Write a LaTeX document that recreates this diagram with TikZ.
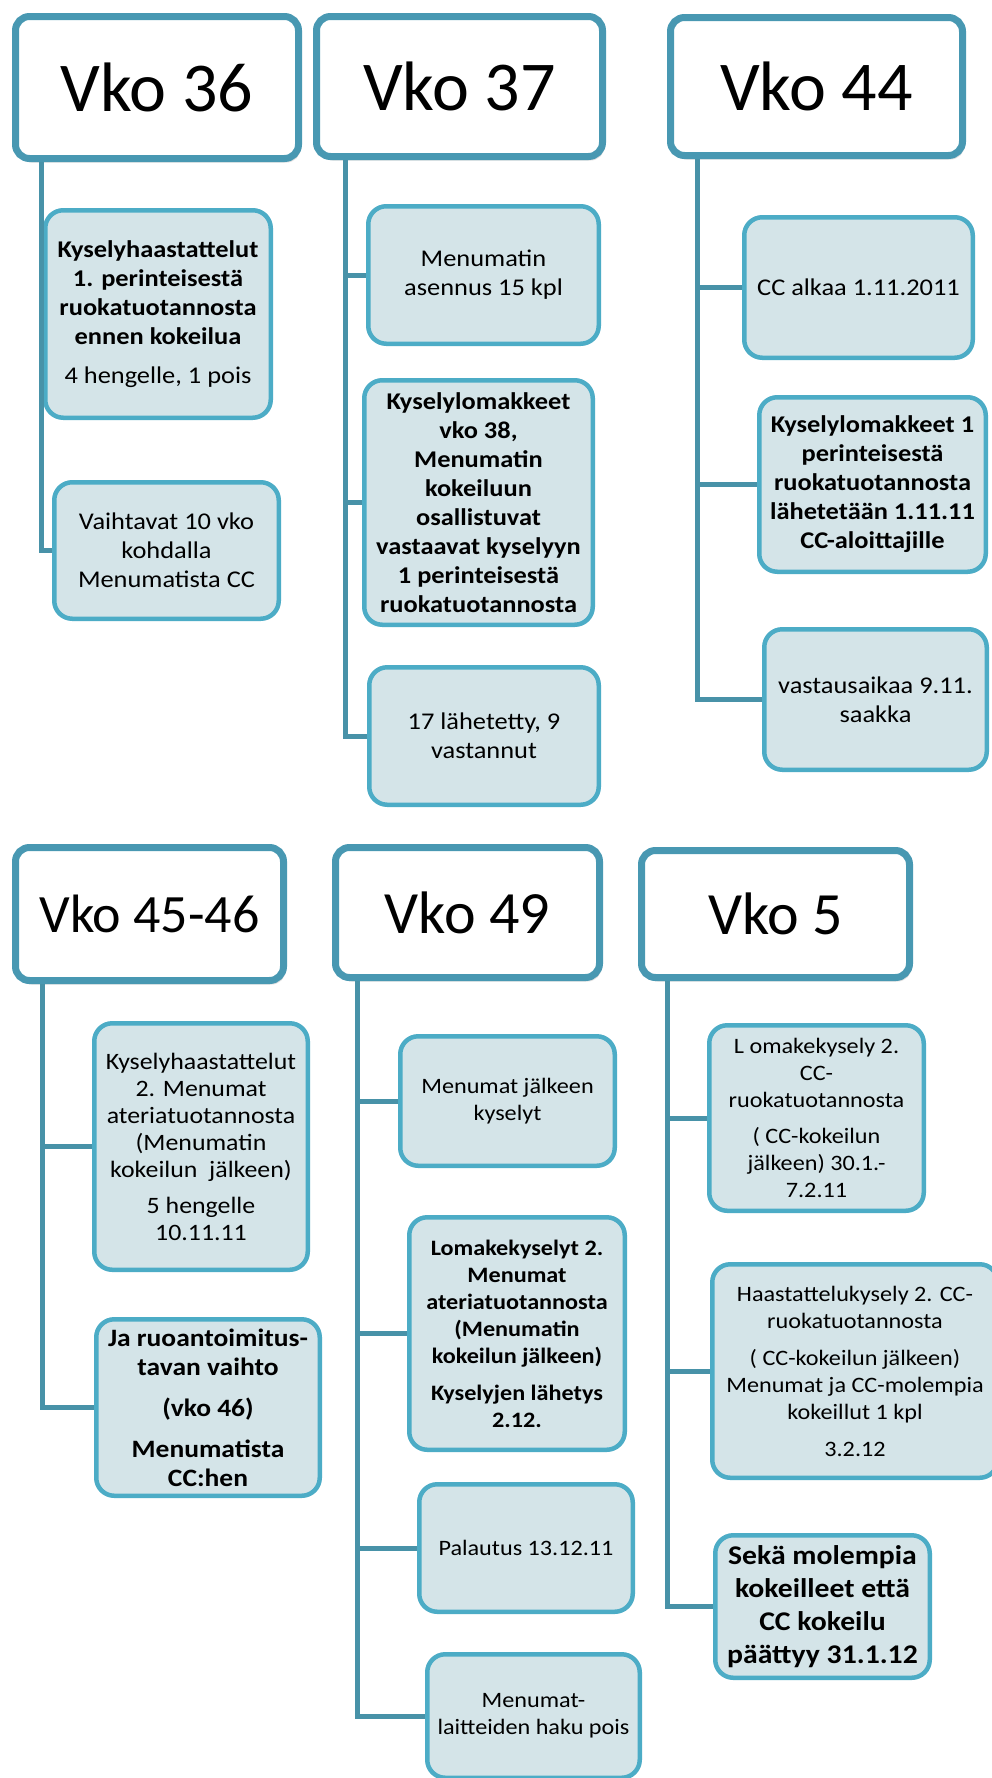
\documentclass[tikz,border=0pt]{standalone}
\usepackage{fontspec}
\setmainfont{Carlito}
\newfontfamily\boxfont[FakeStretch=1.1]{Carlito}
\usetikzlibrary{shadows}
\definecolor{headteal}{RGB}{72,152,178}
\definecolor{boxteal}{RGB}{76,172,198}
\definecolor{boxfill}{RGB}{212,228,232}
\definecolor{linkteal}{RGB}{72,146,168}

\begin{document}
\begin{tikzpicture}[x=1pt, y=-1pt]
    \tikzstyle{head_style} = [draw=headteal, line width=7pt, fill=white, rounded corners=14pt,
      inner sep=0pt, font=\fontsize{70}{84}\selectfont,
      drop shadow={opacity=0.25, shadow xshift=2pt, shadow yshift=-4pt}]
    \tikzstyle{low_head} = [head_style, font=\fontsize{60}{72}\selectfont]
    \tikzstyle{item_style} = [draw=boxteal, line width=4.5pt, fill=boxfill, rounded corners=18pt,
      inner sep=0pt, align=center, font={\boxfont\fontsize{24}{29}\selectfont}]
    \tikzstyle{bold_item} = [item_style, font={\boxfont\bfseries\fontsize{24}{29}\selectfont}]
    \tikzstyle{low_item} = [item_style, font={\boxfont\fontsize{22}{27}\selectfont}]
    \tikzstyle{low_bold} = [item_style, font={\boxfont\bfseries\fontsize{22}{27}\selectfont}]
    \tikzstyle{link_style} = [linkteal, line width=5pt]

    \path[use as bounding box, fill=white] (0,0) rectangle (991,1778);

    % upper row
    \begin{scope}
      \node[head_style, minimum width=283pt, minimum height=142pt] (h36) at (157,87.5) {Vko 36};
      \node[head_style, minimum width=286pt, minimum height=140pt] (h37) at (459.5,86.5) {Vko 37};
      \node[head_style, minimum width=292pt, minimum height=138pt] (h44) at (816.5,86.5) {Vko 44};

      \node[bold_item, minimum width=225.5pt, minimum height=207.5pt] (a1) at (158,314)
        {Kyselyhaastattelut\\ 1. perinteisestä\\ ruokatuotannosta\\ ennen kokeilua\\[10pt]
         \mdseries 4 hengelle, 1 pois};
      \node[item_style, minimum width=224.5pt, minimum height=136.5pt] (a2) at (166.5,550.5)
        {Vaihtavat 10 vko\\ kohdalla\\ Menumatista CC};

      \node[item_style, minimum width=230.5pt, minimum height=137.5pt] (b1) at (483.5,275)
        {Menumatin\\ asennus 15 kpl};
      \node[bold_item, minimum width=228.5pt, minimum height=244.5pt] (b2) at (478.5,502.5)
        {Kyselylomakkeet\\ vko 38,\\ Menumatin\\ kokeiluun\\ osallistuvat\\ vastaavat kyselyyn\\
         1 perinteisestä\\ ruokatuotannosta};
      \node[item_style, minimum width=229.5pt, minimum height=137.5pt] (b3) at (484,736)
        {17 lähetetty, 9\\ vastannut};

      \node[item_style, minimum width=228.5pt, minimum height=140.5pt] (c1) at (858.5,287.5)
        {CC alkaa 1.11.2011};
      \node[bold_item, minimum width=226.5pt, minimum height=174.5pt] (c2) at (872.5,484.5)
        {Kyselylomakkeet 1\\ perinteisestä\\ ruokatuotannosta\\ lähetetään 1.11.11\\ CC-aloittajille};
      \node[item_style, minimum width=222.5pt, minimum height=140.5pt] (c3) at (875.5,699.5)
        {vastausaikaa 9.11.\\ saakka};
    \end{scope}

    % lower row
    \begin{scope}
      \node[low_head, font=\fontsize{54}{66}\selectfont, minimum width=268pt, minimum height=133pt]
        (h4546) at (149.5,914) {Vko 45-46};
      \node[low_head, minimum width=264pt, minimum height=130pt] (h49) at (467.5,912.5) {Vko 49};
      \node[low_head, minimum width=268pt, minimum height=127pt] (h5) at (775.5,914) {Vko 5};

      \node[low_item, font={\boxfont\fontsize{23.5}{27}\selectfont},
        minimum width=213.5pt, minimum height=246.5pt] (d1) at (201,1146.5)
        {Kyselyhaastattelut\\ 2. Menumat\\ ateriatuotannosta\\ (Menumatin\\ kokeilun\ \ jälkeen)\\[9pt]
         5 hengelle\\ 10.11.11};
      \node[item_style, font={\boxfont\bfseries\fontsize{25}{29}\selectfont},
        minimum width=223.5pt, minimum height=176.5pt] (d2) at (208,1407.5)
        {Ja ruoantoimitus-\\ tavan vaihto\\[12pt] (vko 46)\\[12pt] Menumatista\\ CC:hen};

      \node[low_item, minimum width=214.5pt, minimum height=129.5pt] (e1) at (507.5,1101)
        {Menumat jälkeen\\ kyselyt};
      \node[low_bold, minimum width=215.5pt, minimum height=232.5pt] (e2) at (517,1333.5)
        {Lomakekyselyt 2.\\ Menumat\\ ateriatuotannosta\\ (Menumatin\\ kokeilun jälkeen)\\[10pt]
         Kyselyjen lähetys\\ 2.12.};
      \node[low_item, minimum width=213.5pt, minimum height=127.5pt] (e3) at (526,1548)
        {Palautus 13.12.11};
      \node[low_item, minimum width=212.5pt, minimum height=123.5pt] (e4) at (533.5,1716)
        {Menumat-\\ laitteiden haku pois};

      \node[low_item, minimum width=214.5pt, minimum height=185.5pt] (f1) at (816.5,1118)
        {L omakekysely 2.\\ CC-\\ ruokatuotannosta\\[9pt] ( CC-kokeilun\\ jälkeen) 30.1.-\\ 7.2.11};
      \node[low_item, minimum width=285.5pt, minimum height=213.5pt] (f2) at (855,1371)
        {Haastattelukysely 2. CC-\\ ruokatuotannosta\\[10pt] ( CC-kokeilun jälkeen)\\
         Menumat ja CC-molempia\\ kokeillut 1 kpl\\[10pt] 3.2.12};
      \node[item_style, font={\boxfont\bfseries\fontsize{27}{33}\selectfont},
        minimum width=214.5pt, minimum height=142.5pt] (f3) at (822.5,1606.5)
        {Sekä molempia\\ kokeilleet että\\ CC kokeilu\\ päättyy 31.1.12};
    \end{scope}

    \coordinate (t36) at (41,0 |- h36.south);
    \coordinate (t37) at (345,0 |- h37.south);
    \coordinate (t44) at (697,0 |- h44.south);
    \coordinate (t4546) at (42,0 |- h4546.south);
    \coordinate (t49) at (357,0 |- h49.south);
    \coordinate (t5) at (667,0 |- h5.south);

    \foreach \t/\i in {t36/a1, t36/a2, t37/b1, t37/b2, t37/b3, t44/c1, t44/c2, t44/c3,
                       t4546/d1, t4546/d2, t49/e1, t49/e2, t49/e3, t49/e4, t5/f1, t5/f2, t5/f3}
      \draw[link_style] (\t) |- (\i.west);
\end{tikzpicture}
\end{document}
